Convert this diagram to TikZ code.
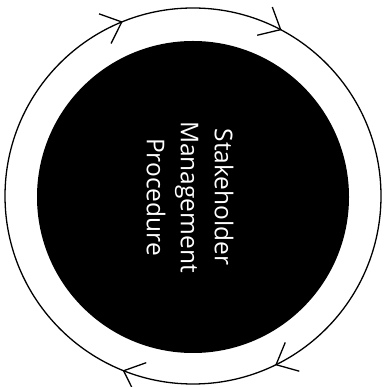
\documentclass[tikz,border=0pt]{standalone}
\usepackage{fontspec}
\setmainfont{Open Sans}
\usetikzlibrary{arrows.meta,decorations.markings}

\begin{document}
\begin{tikzpicture}[x=1pt, y=1pt, thick]
  \tikzset{barb/.tip={Straight Barb[length=18pt, width=32pt, line width=1.3pt]}}
  \tikzstyle{core} = [circle, fill=black, minimum size=312pt, inner sep=0pt]
  \tikzstyle{label} = [text=white, align=center, rotate=-90, font=\fontsize{24.5}{34}\selectfont]
  \tikzstyle{ring} = [draw, line width=1.3pt, postaction={decorate}, decoration={markings,
      mark=at position 0.172 with {\arrowreversed{barb}},
      mark=at position 0.311 with {\arrowreversed{barb}},
      mark=at position 0.689 with {\arrowreversed{barb}},
      mark=at position 0.822 with {\arrowreversed{barb}}}]

  \useasboundingbox (0,0) rectangle (385,387);

  \coordinate (c) at (193,191);
  \path [ring] (c) circle (188pt);
  \node [core] (proc) at (193,190) {};
  \node [label] (name) at (190,190) {Stakeholder\\Management\\Procedure};
\end{tikzpicture}
\end{document}
